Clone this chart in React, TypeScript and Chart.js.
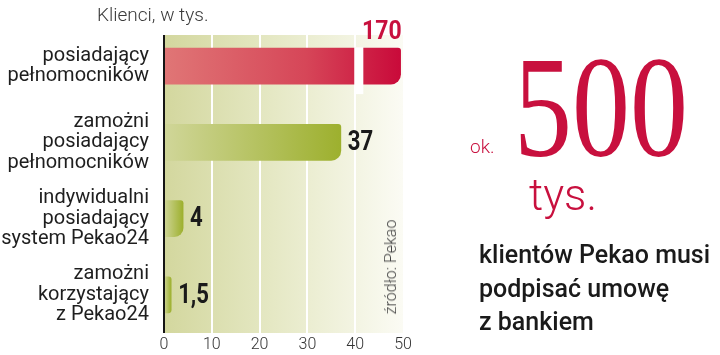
import React, { useEffect, useRef } from "react";
import { Chart, registerables } from "chart.js";

Chart.register(...registerables);

const categories: string[][] = [
  ["posiadający", "pełnomocników"],
  ["zamożni", "posiadający", "pełnomocników"],
  ["indywidualni", "posiadający", "system Pekao24"],
  ["zamożni", "korzystający", "z Pekao24"],
];
const values: number[] = [170, 37, 4, 1.5];
const xTicks: number[] = [0, 10, 20, 30, 40, 50];
const AXIS_MAX = 50;
const BREAK_AT = 40;

const RED = "#c8103e";
const FONT = "Roboto, 'Noto Sans', sans-serif";

const shownValues = values.map((v) => (v > AXIS_MAX ? AXIS_MAX - 0.5 : v));
const formatPl = (v: number) => String(v).replace(".", ",");

function drawCondensed(ctx: CanvasRenderingContext2D, text: string, x: number, y: number, align: "left" | "right", sx: number) {
  ctx.save();
  ctx.translate(x, y);
  ctx.scale(sx, 1);
  ctx.textAlign = align;
  ctx.fillText(text, 0, 0);
  ctx.restore();
}

const decorPlugin = {
  id: "decor",
  beforeDraw(chart: any) {
    const { ctx, chartArea: ca } = chart;
    if (!ca) return;
    const top = ca.top + 7;
    const g = ctx.createLinearGradient(ca.left, 0, ca.right, 0);
    g.addColorStop(0, "#d3d79e");
    g.addColorStop(0.45, "#e5e8c4");
    g.addColorStop(1, "#fbfbf4");
    ctx.save();
    ctx.fillStyle = g;
    ctx.fillRect(ca.left, top, ca.right - ca.left, ca.bottom - top);
    ctx.restore();
  },
  afterDraw(chart: any) {
    const { ctx, chartArea: ca } = chart;
    const xs = chart.scales.x;
    const meta = chart.getDatasetMeta(0);
    ctx.save();
    // axis break for bars beyond the axis max
    meta.data.forEach((bar: any, i: number) => {
      if (values[i] > AXIS_MAX) {
        const x0 = xs.getPixelForValue(BREAK_AT - 0.2);
        const x1 = xs.getPixelForValue(BREAK_AT + 1.7);
        const h = bar.height;
        ctx.fillStyle = "#ffffff";
        ctx.fillRect(x0, bar.y - h / 2 - 1, x1 - x0, h + 11);
      }
    });
    // left axis line
    ctx.strokeStyle = "#151515";
    ctx.lineWidth = 2;
    ctx.beginPath();
    ctx.moveTo(ca.left, ca.top + 7);
    ctx.lineTo(ca.left, ca.bottom);
    ctx.stroke();
    // value labels
    meta.data.forEach((bar: any, i: number) => {
      const txt = formatPl(values[i]);
      const h = bar.height;
      if (values[i] > AXIS_MAX) {
        ctx.fillStyle = RED;
        ctx.font = `bold 25px ${FONT}`;
        ctx.textBaseline = "alphabetic";
        drawCondensed(ctx, txt, bar.x + 1, bar.y - h / 2 - 9, "right", 0.92);
      } else {
        ctx.fillStyle = "#1a1a1a";
        ctx.font = `bold 27px ${FONT}`;
        ctx.textBaseline = "middle";
        drawCondensed(ctx, txt, bar.x + 7, bar.y + 1, "left", 0.82);
      }
    });
    ctx.restore();
  },
};

export default function App() {
  const ref = useRef<HTMLCanvasElement | null>(null);

  useEffect(() => {
    if (!ref.current) return;
    const chart = new Chart(ref.current, {
      type: "bar",
      data: {
        labels: categories as any,
        datasets: [
          {
            data: shownValues,
            barThickness: 36,
            borderRadius: { topLeft: 0, bottomLeft: 0, topRight: 3, bottomRight: 10 } as any,
            borderSkipped: "start",
            backgroundColor: (c: any) => {
              const chart = c.chart;
              const ca = chart.chartArea;
              if (!ca) return "#a8b840";
              const xs = chart.scales.x;
              const i = c.dataIndex;
              const x0 = xs.getPixelForValue(0);
              const x1 = xs.getPixelForValue(shownValues[i]);
              const g = chart.ctx.createLinearGradient(x0, 0, Math.max(x1, x0 + 1), 0);
              if (values[i] > AXIS_MAX) {
                g.addColorStop(0, "#e07676");
                g.addColorStop(0.6, "#d64658");
                g.addColorStop(1, "#c90a3a");
              } else {
                g.addColorStop(0, "#d0d699");
                g.addColorStop(1, "#9db02e");
              }
              return g;
            },
          },
        ],
      },
      options: {
        indexAxis: "y",
        responsive: false,
        animation: false,
        devicePixelRatio: 1,
        layout: { padding: { left: 0, right: 317, top: 28, bottom: 0 } },
        plugins: { legend: { display: false }, tooltip: { enabled: false } },
        scales: {
          x: {
            type: "linear",
            min: xTicks[0],
            max: xTicks[xTicks.length - 1],
            z: 1,
            afterBuildTicks: (s: any) => {
              s.ticks = xTicks.map((v) => ({ value: v }));
            },
            afterFit: (s: any) => {
              s.height = 22;
              s.paddingLeft = 0;
              s.paddingRight = 0;
            },
            ticks: {
              font: { family: FONT, size: 16, weight: "300" as any },
              color: "#333333",
              padding: 2,
            },
            grid: {
              color: (c: any) =>
                c.tick && c.tick.value > xTicks[0] && c.tick.value < xTicks[xTicks.length - 1]
                  ? "#ffffff"
                  : "rgba(0,0,0,0)",
              lineWidth: 2,
              drawTicks: false,
            },
            border: { display: false },
          },
          y: {
            type: "category",
            afterFit: (s: any) => {
              s.width = 164;
              s.paddingTop = 0;
              s.paddingBottom = 0;
            },
            ticks: {
              font: { family: FONT, size: 20, lineHeight: 1.03 },
              color: "#1e1e1e",
              padding: 7,
            },
            grid: { display: false },
            border: { display: false },
          },
        },
      },
      plugins: [decorPlugin],
    });
    return () => chart.destroy();
  }, []);

  const abs: React.CSSProperties = { position: "absolute", whiteSpace: "nowrap", margin: 0 };

  return (
    <div style={{ position: "fixed", left: 0, top: 0, width: 720, height: 355, background: "#fff", overflow: "hidden" }}>
      <canvas ref={ref} width={720} height={355} style={{ display: "block", position: "absolute", left: 0, top: 0 }} />
      <div style={{ ...abs, left: 97, top: 5, fontFamily: FONT, fontWeight: 300, fontSize: 19, lineHeight: "19px", color: "#3a3a3a" }}>
        Klienci, w tys.
      </div>
      <div
        style={{
          ...abs,
          left: 391,
          top: 267,
          fontFamily: FONT,
          fontWeight: 300,
          fontSize: 16,
          lineHeight: "16px",
          color: "#444",
          transform: "translate(-50%, -50%) rotate(-90deg)",
        }}
      >
        źródło: Pekao
      </div>
      <div style={{ ...abs, left: 470, top: 137, fontFamily: FONT, fontWeight: 300, fontSize: 19, lineHeight: "19px", color: RED }}>ok.</div>
      <div
        style={{
          ...abs,
          left: 514,
          top: 35,
          fontFamily: "'Liberation Serif', 'DejaVu Serif', serif",
          fontSize: 145,
          lineHeight: "145px",
          color: RED,
          transform: "scaleX(0.8)",
          transformOrigin: "0 0",
        }}
      >
        500
      </div>
      <div style={{ ...abs, left: 529, top: 173, fontFamily: FONT, fontWeight: 300, fontSize: 44, lineHeight: "44px", color: RED }}>tys.</div>
      <div style={{ ...abs, left: 479, top: 238, fontFamily: FONT, fontWeight: 500, fontSize: 25, lineHeight: "33.5px", color: "#1a1a1a" }}>
        klientów Pekao musi
        <br />
        podpisać umowę
        <br />z bankiem
      </div>
    </div>
  );
}
